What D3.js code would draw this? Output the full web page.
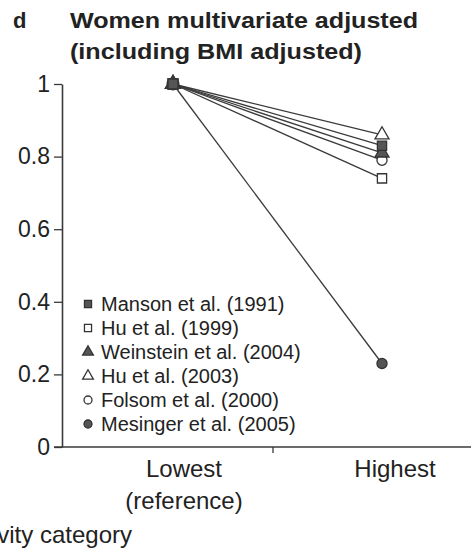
<!DOCTYPE html>
<html>
<head>
<meta charset="utf-8">
<script src="https://cdn.jsdelivr.net/npm/d3@7"></script>
<style>
  body { margin: 0; background: #fff; overflow: hidden; }
  svg { display: block; font-family: "Liberation Sans", Arial, Helvetica, sans-serif; }
</style>
</head>
<body>
<svg id="chart" width="471" height="553"></svg>
<script>
// Relative risk by activity category, women, multivariate adjusted
const categories = ["Lowest", "Highest"];
const categoryLines = [["Lowest", "(reference)"], ["Highest"]];
const studies = ["Manson et al. (1991)", "Hu et al. (1999)", "Weinstein et al. (2004)",
                 "Hu et al. (2003)", "Folsom et al. (2000)", "Mesinger et al. (2005)"];
const lowestValues = [1, 1, 1, 1, 1, 1];
const highestValues = [0.83, 0.74, 0.81, 0.86, 0.79, 0.23];
const markerShapes = ["square", "square", "triangle", "triangle", "circle", "circle"];
const markerFilled = [true, false, true, false, false, true];
const yTicks = [0, 0.2, 0.4, 0.6, 0.8, 1];

const svg = d3.select("#chart");
const ink = "#3a3a3a";
const textInk = "#222";

const x = d3.scalePoint().domain(categories).range([173, 382]);
const y = d3.scaleLinear().domain([0, 1]).range([447, 84]);

// Title
svg.append("text").attr("x", 13).attr("y", 28).attr("font-size", 22).attr("font-weight", "bold")
  .attr("fill", textInk).text("d");
svg.append("text").attr("x", 70).attr("y", 28).attr("font-size", 22).attr("font-weight", "bold")
  .attr("textLength", 348).attr("lengthAdjust", "spacingAndGlyphs")
  .attr("fill", textInk).text("Women multivariate adjusted");
svg.append("text").attr("x", 70).attr("y", 59).attr("font-size", 22).attr("font-weight", "bold")
  .attr("textLength", 292).attr("lengthAdjust", "spacingAndGlyphs")
  .attr("fill", textInk).text("(including BMI adjusted)");

// Y axis
const yAxis = svg.append("g").attr("transform", "translate(62,0)")
  .call(d3.axisLeft(y).tickValues(yTicks).tickSize(8).tickSizeOuter(0)
    .tickFormat(d => d === 0 || d === 1 ? d3.format("d")(d) : d3.format(".1f")(d)));
yAxis.select(".domain").attr("stroke", ink).attr("stroke-width", 1.6);
yAxis.selectAll(".tick line").attr("stroke", ink).attr("stroke-width", 1.3);
yAxis.selectAll(".tick text").attr("font-size", 23).attr("fill", textInk)
  .attr("font-family", "Liberation Sans, Arial, sans-serif").attr("dx", "-1px");

// X axis, with a single tick separating the two categories
const xAxisG = svg.append("g").attr("transform", `translate(0,${y(0)})`);
xAxisG.append("line").attr("x1", 54).attr("x2", 471).attr("y1", 0).attr("y2", 0)
  .attr("stroke", ink).attr("stroke-width", 1.6);
const xMid = 273;
xAxisG.append("line").attr("x1", xMid).attr("x2", xMid)
  .attr("y1", 0).attr("y2", 6).attr("stroke", ink).attr("stroke-width", 1.3);

// Category labels
categories.forEach((c, i) => {
  const cx = x(c) + (i === 0 ? 11 : 13);
  categoryLines[i].forEach((t, j) => {
    svg.append("text").attr("x", cx).attr("y", 477 + j * 32).attr("text-anchor", "middle")
      .attr("font-size", 24).attr("fill", textInk).text(t);
  });
});
svg.append("text").attr("x", 132).attr("y", 543).attr("text-anchor", "end")
  .attr("font-size", 24).attr("fill", textInk).text("Physical activity category");

// Study lines
const line = d3.line().x(d => x(d.c)).y(d => y(d.v));
studies.forEach((s, i) => {
  svg.append("path")
    .datum([{ c: "Lowest", v: lowestValues[i] }, { c: "Highest", v: highestValues[i] }])
    .attr("d", line).attr("fill", "none").attr("stroke", ink).attr("stroke-width", 1.3);
});

function marker(g, shape, filled, size) {
  const sym = shape === "square" ? d3.symbolSquare : shape === "triangle" ? d3.symbolTriangle : d3.symbolCircle;
  g.append("path").attr("d", d3.symbol().type(sym).size(size))
    .attr("fill", filled ? "#555" : "#fff").attr("stroke", "#333").attr("stroke-width", 1.3);
}

// Markers at the highest category
[5, 4, 3, 1, 2, 0].forEach(i => {
  const g = svg.append("g").attr("transform", `translate(${x("Highest")},${y(highestValues[i])})`);
  marker(g, markerShapes[i], markerFilled[i], markerShapes[i] === "circle" ? 80 : 85);
});
// Markers at the reference category
[5, 4, 3, 2, 1, 0].forEach(i => {
  const g = svg.append("g").attr("transform", `translate(${x("Lowest")},${y(lowestValues[i])})`);
  marker(g, markerShapes[i], markerFilled[i], 100);
});

// Legend
studies.forEach((s, i) => {
  const ly = 304 + i * 24;
  const g = svg.append("g").attr("transform", `translate(88,${ly})`);
  marker(g, markerShapes[i], markerFilled[i], 50);
  svg.append("text").attr("x", 101).attr("y", ly + 7).attr("font-size", 20)
    .attr("fill", textInk).text(s);
});
</script>
</body>
</html>
